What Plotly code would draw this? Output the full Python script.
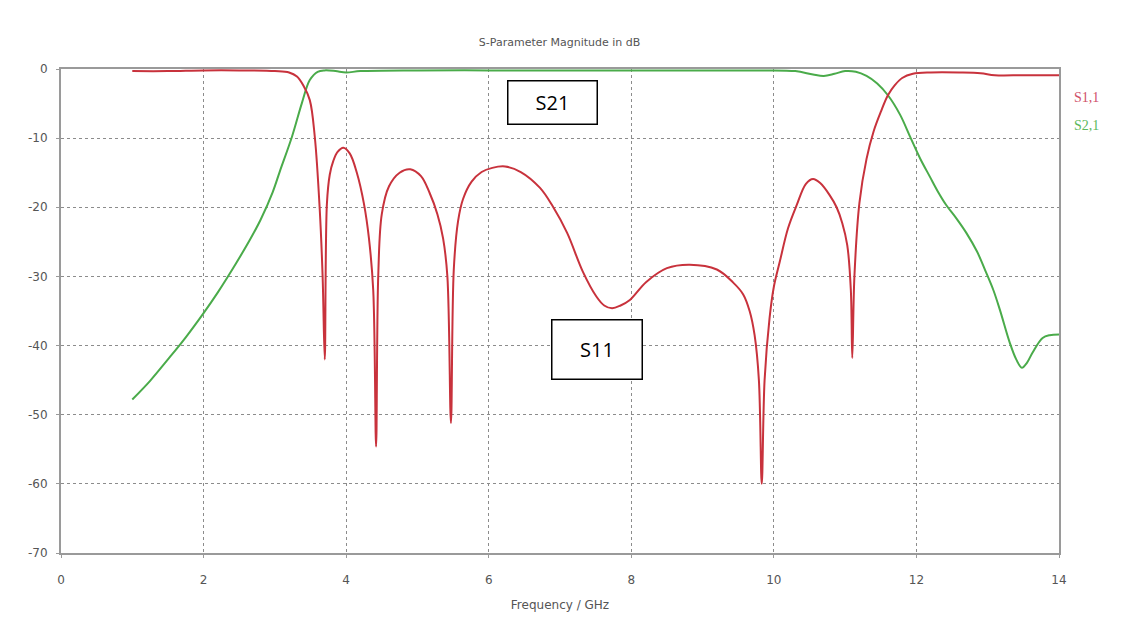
import plotly.graph_objects as go

# S11 (return loss), GHz / dB
s11_freq = [1.0, 1.5, 2.0, 2.5, 3.0, 3.2, 3.31, 3.4, 3.49, 3.56, 3.63, 3.67,
            3.70, 3.73, 3.77, 3.82, 3.88, 3.96, 4.05, 4.15, 4.25, 4.32, 4.38,
            4.42, 4.45, 4.5, 4.6, 4.75, 4.9, 5.05, 5.17, 5.28, 5.36, 5.42,
            5.47, 5.51, 5.57, 5.64, 5.76, 5.9, 6.05, 6.23, 6.45, 6.72, 6.9,
            7.1, 7.32, 7.51, 7.62, 7.73, 7.85, 7.98, 8.21, 8.5, 8.82, 9.2,
            9.43, 9.57, 9.66, 9.73, 9.79, 9.83, 9.87, 9.94, 10.0,
            10.08, 10.2, 10.32, 10.45, 10.55, 10.65, 10.78, 10.88, 10.96,
            11.03, 11.08, 11.1, 11.13, 11.2, 11.3, 11.4, 11.5, 11.6, 11.7,
            11.8, 11.95, 12.2, 12.6, 12.9, 13.1, 13.5, 14.0]
s11_db = [-0.3, -0.3, -0.2, -0.2, -0.3, -0.5, -1.1, -2.4, -4.5, -9.8, -20.4,
          -30.0, -42.0, -19.5, -15.3, -13.3, -12.0, -11.4, -12.2, -15.0, -19.5,
          -24.5, -32.0, -54.6, -30.0, -21.0, -17.0, -15.0, -14.5, -15.5, -17.9,
          -21.0, -24.5, -30.0, -51.2, -29.0, -22.0, -18.8, -16.3, -14.9, -14.3,
          -14.1, -14.9, -17.2, -19.9, -23.7, -29.3, -32.9, -34.2, -34.6, -34.2,
          -33.4, -30.8, -28.8, -28.3, -29.0, -30.9, -32.6, -35.0, -38.5, -45.0,
          -60.0, -45.0, -36.0, -31.5, -28.0, -23.0, -19.7, -16.6, -15.9, -16.5,
          -18.2, -20.0, -22.3, -25.5, -32.0, -41.8, -30.0, -19.4, -13.0, -9.0,
          -6.2, -3.8, -2.3, -1.3, -0.7, -0.5, -0.5, -0.6, -0.9, -0.9, -0.9]

# S21 (insertion loss)
s21_freq = [1.0, 1.25, 1.5, 1.75, 2.0, 2.2, 2.45, 2.65, 2.8, 2.97, 3.07, 3.24,
            3.38, 3.49, 3.6, 3.7, 3.85, 4.0, 4.2, 5.0, 6.0, 7.0, 8.0, 9.0, 9.8,
            10.3, 10.55, 10.7, 10.85, 11.0, 11.15, 11.3, 11.45, 11.6, 11.77,
            11.92, 12.05, 12.19, 12.3, 12.42, 12.56, 12.7, 12.85, 12.98, 13.08,
            13.17, 13.31, 13.4, 13.48, 13.55, 13.63, 13.77, 13.87, 14.0]
s21_db = [-47.8, -45.1, -42.0, -38.8, -35.3, -32.3, -28.2, -24.7, -21.8, -17.8,
          -14.8, -9.8, -4.9, -1.6, -0.4, -0.2, -0.3, -0.5, -0.3, -0.2, -0.2,
          -0.2, -0.2, -0.2, -0.2, -0.3, -0.8, -1.0, -0.7, -0.3, -0.4, -1.0,
          -2.1, -3.8, -6.6, -10.0, -12.9, -15.6, -17.7, -19.7, -21.6, -23.7,
          -26.4, -29.5, -32.0, -34.8, -39.6, -42.0, -43.2, -42.5, -41.0, -38.9,
          -38.5, -38.4]

x_ticks = [0, 2, 4, 6, 8, 10, 12, 14]
y_ticks = [0, -10, -20, -30, -40, -50, -60, -70]
y_tick_text = ["0", "-10", "-20", "-30", "-40", "-50", "-60", "-70"]

RED = "#c8323c"
GREEN = "#4aab4a"
TXT = "#555555"

fig = go.Figure()
fig.add_trace(go.Scatter(x=s21_freq, y=s21_db, mode="lines", name="S2,1",
                         line=dict(color=GREEN, width=2, shape="spline", smoothing=1)))
fig.add_trace(go.Scatter(x=s11_freq, y=s11_db, mode="lines", name="S1,1",
                         line=dict(color=RED, width=2, shape="spline", smoothing=1)))

axis_common = dict(
    showline=True, linecolor="#9a9a9a", linewidth=2, mirror=True,
    showgrid=True, gridcolor="#8c8c8c", griddash="dot", gridwidth=1,
    zeroline=False, ticks="outside", ticklen=3, tickcolor="#9a9a9a",
    tickfont=dict(family="DejaVu Sans", size=12, color=TXT), automargin=False,
)

# the page body adds an 8px margin, so the figure is 8px smaller each way
fig.update_layout(
    width=1128, height=620,
    paper_bgcolor="white", plot_bgcolor="white",
    margin=dict(l=53, r=77, t=61, b=75),
    showlegend=False,
    title=dict(text="S-Parameter Magnitude in dB", x=0.489, y=0.945,
               xanchor="center", yanchor="middle",
               font=dict(family="DejaVu Sans", size=11, color=TXT)),
    xaxis=dict(range=[0, 14], tickvals=x_ticks, ticklabelstandoff=12,
               title=dict(text="Frequency / GHz", standoff=14,
                          font=dict(family="DejaVu Sans", size=12, color=TXT)),
               **axis_common),
    yaxis=dict(range=[-70, 0], tickvals=y_ticks, ticktext=y_tick_text,
               ticklabelstandoff=6, **axis_common),
)

# legend-style labels on the right
fig.add_annotation(x=1.0, y=0.961, xref="paper", yref="paper", xanchor="left",
                   xshift=13, text="S1,1", showarrow=False,
                   font=dict(family="Liberation Serif", size=14, color="#d0506a"))
fig.add_annotation(x=1.0, y=0.903, xref="paper", yref="paper", xanchor="left",
                   xshift=13, text="S2,1", showarrow=False,
                   font=dict(family="Liberation Serif", size=14, color="#5cb85c"))

# boxed labels
box = dict(showarrow=False, bgcolor="white", bordercolor="black", borderwidth=1.5,
           borderpad=2, font=dict(family="Open Sans", size=20, color="black"))
fig.add_annotation(x=6.89, y=-4.9, text="S21", width=84, height=38, **box)
fig.add_annotation(x=7.52, y=-40.6, text="S11", width=85, height=54, **box)

fig.write_html("out.html")
